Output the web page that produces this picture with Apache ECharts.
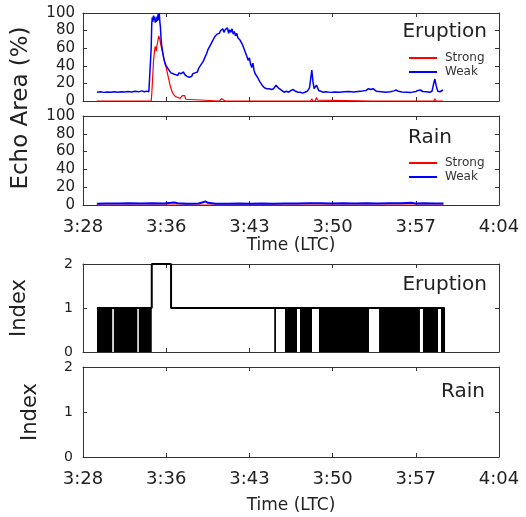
<!DOCTYPE html>
<html>
<head>
<meta charset="utf-8">
<script src="https://cdn.jsdelivr.net/npm/echarts@6/dist/echarts.min.js"></script>
<style>
  html, body { margin: 0; padding: 0; background: #fff; }
  #chart { width: 526px; height: 517px; }
</style>
</head>
<body>
<div id="chart"></div>
<script>
// x values are minutes after 3:28 (LTC)
var tickLabels = ['3:28', '3:36', '3:43', '3:50', '3:57', '4:04'];

// echo area (%) - eruption
var eruptionWeak = [
  [1.2,10],[1.5,10.5],[1.8,9.8],[2.1,10.3],[2.4,10],[2.7,10.6],[3.0,9.9],[3.3,10.4],[3.6,10.1],[3.9,10.7],
  [4.2,10.2],[4.5,11],[4.8,10.4],[5.1,11.5],[5.3,10.6],[5.5,11.2],[5.7,10.5],[5.85,11],
  [5.9,60],[5.95,88],[6.0,95],[6.05,90],[6.1,97],[6.15,92],[6.2,96],[6.25,89],[6.3,94],[6.35,90],
  [6.4,96],[6.45,91],[6.5,99],[6.55,92],[6.6,100],[6.65,90],[6.7,84],[6.75,72],[6.8,64],[6.9,55],
  [7.0,48],[7.1,43],[7.2,40],[7.3,38],[7.4,36],[7.5,35],[7.6,32],[7.7,33],[7.8,31],[7.9,32],
  [8.0,30],[8.1,31],[8.2,29],[8.3,32],[8.4,30],[8.5,31],[8.6,29],[8.7,33],[8.8,30],[8.9,31],
  [9.0,28],[9.1,30],[9.2,27],[9.3,29],[9.4,28],[9.5,31],[9.6,29],[9.7,32],[9.8,34],[9.9,33],
  [10.0,37],[10.1,36],[10.2,41],[10.3,40],[10.4,45],[10.5,46],[10.6,51],[10.7,54],[10.8,58],[10.9,57],
  [11.0,63],[11.1,65],[11.2,68],[11.3,70],[11.4,73],[11.5,72],[11.6,76],[11.7,78],[11.8,77],[11.9,80],
  [12.0,79],[12.1,82],[12.2,78],[12.3,81],[12.4,79],[12.5,83],[12.6,77],[12.7,81],[12.8,78],[12.9,82],
  [13.0,76],[13.1,79],[13.2,74],[13.3,77],[13.4,72],[13.5,74],[13.6,69],[13.7,70],[13.8,64],[13.9,62],
  [14.0,57],[14.1,55],[14.2,50],[14.3,46],[14.4,49],[14.5,42],[14.6,38],[14.7,43],[14.8,35],[14.9,31],
  [15.0,33],[15.1,27],[15.2,25],[15.3,22],[15.4,20],[15.5,18],[15.6,17],[15.7,15],[15.8,16],[15.9,14],
  [16.0,13],[16.1,14],[16.2,12],[16.3,13],[16.4,12],[16.5,14],[16.6,16],[16.7,18],[16.8,17],[16.9,15],
  [17.0,13],[17.2,12],[17.4,10],[17.6,11],[17.8,10],[18.0,12],[18.2,13],[18.4,11],[18.6,10],[18.8,10],
  [19.0,9],[19.2,10],[19.4,11],[19.6,15],[19.7,25],[19.8,35],[19.9,22],[20.0,14],[20.1,13],[20.2,18],
  [20.3,20],[20.4,12],[20.5,10],[20.8,10],[21.0,10.5],[21.4,9.8],[21.8,10.3],[22.2,10],[22.6,10.5],[23.0,10.8],
  [23.4,10.3],[23.8,10.9],[24.2,11.5],[24.5,12],[24.7,14],[24.9,13],[25.0,15],[25.1,14],[25.2,12],[25.4,11],
  [25.8,10.5],[26.2,10],[26.6,10.6],[26.9,11.5],[27.1,12.5],[27.3,11],[27.6,10.2],[28.0,10],[28.4,9.8],[28.8,10.8],
  [29.0,12],[29.2,12.5],[29.4,10.8],[29.7,10.5],[30.0,10],[30.2,11],[30.35,20],[30.45,25],[30.55,18],[30.7,11],
  [30.9,10.5],[31.0,12],[31.15,12.5]
];
var eruptionStrong = [
  [1.2,0],[5.9,0],[5.95,8],[6.0,20],[6.05,32],[6.1,45],[6.15,52],[6.2,58],[6.25,62],[6.3,60],
  [6.35,57],[6.4,63],[6.45,66],[6.5,70],[6.55,74],[6.6,76],[6.65,70],[6.7,66],[6.8,60],[6.9,54],
  [7.0,48],[7.1,42],[7.2,38],[7.3,32],[7.4,26],[7.5,20],[7.6,15],[7.7,11],[7.8,8],[7.9,6],
  [8.0,5],[8.1,6],[8.2,4],[8.3,5],[8.4,3],[8.5,5],[8.6,6],[8.7,4],[8.8,6],[8.9,2],
  [9.0,0],[11.8,0],[11.9,1],[12.0,2.5],[12.1,1.5],[12.3,0],[16.7,0],[16.8,1.2],[16.9,0],[19.7,0],
  [19.8,2.5],[19.9,0],[20.1,0],[20.2,4],[20.3,1],[20.4,0],[25.0,0],[25.1,1],[25.2,0],[30.35,0],
  [30.45,2.5],[30.55,0],[31.15,0]
];

// echo area (%) - rain
var rainWeak = [
  [1.2,1.5],[2,1.8],[3,1.6],[4,2],[5,1.7],[6,2.1],[7,1.8],[7.9,2.8],[8.2,1.9],[9,1.5],
  [10,1.6],[10.4,3],[10.6,4],[10.8,2.5],[11.5,1.5],[12.5,1.4],[13.5,1.6],[14.5,1.5],[15.5,1.7],[16.5,1.5],
  [17.5,1.8],[18.5,1.6],[19.5,1.9],[20.5,2],[21.5,1.8],[22.5,2.1],[23.5,1.7],[24.5,2],[25.5,1.8],[26.5,2],
  [27.5,1.9],[28.5,2.4],[28.8,1.8],[29.5,2],[30.5,1.7],[31.2,1.8]
];
var rainStrong = [[1.2,0],[31.2,0]];

// index - eruption (held level)
var eruptionIndex = [[1.21,1],[5.95,2],[7.62,1],[31.3,1]];
// periods where the eruption index switches 0/1 too fast to resolve: [start, end]
var eruptionToggleSpans = [
  [1.21,2.53],[2.67,4.70],[4.83,5.95],
  [16.55,16.7],[17.48,18.52],[18.78,19.82],[20.42,24.75],
  [25.62,29.16],[29.42,30.72],[30.98,31.33]
];
var rainIndex = [];

var FONT = 'DejaVu Sans';
var AX = '#333';

var grids = [
  {left: 83, top: 13, width: 416, height: 88},
  {left: 83, top: 116, width: 416, height: 89},
  {left: 83, top: 264, width: 416, height: 88},
  {left: 83, top: 367, width: 416, height: 90}
];

function makeX(g, pos, showLabel, nameGap) {
  return {
    type: 'value', gridIndex: g, position: pos,
    min: 0, max: 36, interval: 7.2,
    name: showLabel ? 'Time (LTC)' : '',
    nameLocation: 'middle', nameGap: nameGap,
    nameTextStyle: {fontFamily: FONT, fontSize: 17, color: '#222'},
    axisLine: {show: true, onZero: false, lineStyle: {color: AX, width: 1}},
    axisTick: {show: true, inside: true, length: 4, lineStyle: {color: AX}},
    axisLabel: {
      show: showLabel, margin: 13, fontFamily: FONT, fontSize: 18, color: '#222',
      formatter: function (v) { return tickLabels[Math.round(v / 7.2)]; }
    },
    splitLine: {show: false}
  };
}

function makeY(g, pos, max, interval, fontSize, margin) {
  return {
    type: 'value', gridIndex: g, position: pos,
    min: 0, max: max, interval: interval,
    axisLine: {show: true, onZero: false, lineStyle: {color: AX, width: 1}},
    axisTick: {show: true, inside: true, length: 4, lineStyle: {color: AX}},
    axisLabel: {show: pos === 'left', margin: margin, fontFamily: FONT, fontSize: fontSize, color: '#222'},
    splitLine: {show: false}
  };
}

var xAxes = [], yAxes = [];
for (var i = 0; i < 4; i++) {
  var lab = (i === 1 || i === 3);
  xAxes.push(makeX(i, 'bottom', lab, i === 1 ? 30 : 40));
  xAxes.push(makeX(i, 'top', false, 0));
  var echo = i < 2;
  yAxes.push(makeY(i, 'left', echo ? 100 : 2, echo ? 20 : 1, echo ? 15 : 14, echo ? 8 : 10));
  yAxes.push(makeY(i, 'right', echo ? 100 : 2, echo ? 20 : 1, echo ? 15 : 14, 8));
}

function lineSeries(name, g, data, color, width) {
  return {
    name: name, type: 'line', xAxisIndex: 2 * g, yAxisIndex: 2 * g,
    data: data, symbol: 'none', color: color,
    lineStyle: {color: color, width: width}
  };
}

var series = [
  lineSeries('Strong', 0, eruptionStrong, '#ff0000', 1.2),
  lineSeries('Weak', 0, eruptionWeak, '#0000ff', 1.5),
  lineSeries('Strong', 1, rainStrong, '#ff0000', 1.2),
  lineSeries('Weak', 1, rainWeak, '#0000ff', 2),
  {
    name: 'Eruption index', type: 'line', step: 'end', xAxisIndex: 4, yAxisIndex: 4,
    data: eruptionIndex, symbol: 'none',
    lineStyle: {color: '#000', width: 2},
    markArea: {
      silent: true,
      itemStyle: {color: '#000', opacity: 1, borderWidth: 0},
      data: eruptionToggleSpans.map(function (s) {
        return [{xAxis: s[0], yAxis: 0}, {xAxis: s[1], yAxis: 1}];
      })
    }
  },
  {
    name: 'Rain index', type: 'line', step: 'end', xAxisIndex: 6, yAxisIndex: 6,
    data: rainIndex, symbol: 'none',
    lineStyle: {color: '#000', width: 2}
  }
];

function legendAt(top) {
  return {
    data: ['Strong', 'Weak'], orient: 'vertical', left: 409, top: top,
    padding: 0, itemGap: 0, itemWidth: 28, itemHeight: 2, icon: 'rect',
    selectedMode: false,
    textStyle: {fontFamily: FONT, fontSize: 12, color: '#333', padding: [0, 0, 0, 3], lineHeight: 14}
  };
}

function label(text, x, y, size, align, rot) {
  return {
    type: 'text', x: x, y: y, rotation: rot || 0,
    style: {text: text, fontFamily: FONT, fontSize: size, fill: '#222',
      align: align, verticalAlign: 'middle'}
  };
}

var chart = echarts.init(document.getElementById('chart'), null, {renderer: 'canvas'});
chart.setOption({
  animation: false,
  backgroundColor: '#fff',
  grid: grids,
  xAxis: xAxes,
  yAxis: yAxes,
  legend: [legendAt(51), legendAt(156)],
  graphic: [
    label('Eruption', 487, 32, 20, 'right'),
    label('Rain', 452, 138, 20, 'right'),
    label('Eruption', 487, 285, 20, 'right'),
    label('Rain', 485, 392, 20, 'right'),
    label('Echo Area (%)', 21, 108, 23, 'center', Math.PI / 2),
    label('Index', 20, 308, 21, 'center', Math.PI / 2),
    label('Index', 31, 412, 21, 'center', Math.PI / 2)
  ],
  series: series
});
</script>
</body>
</html>
